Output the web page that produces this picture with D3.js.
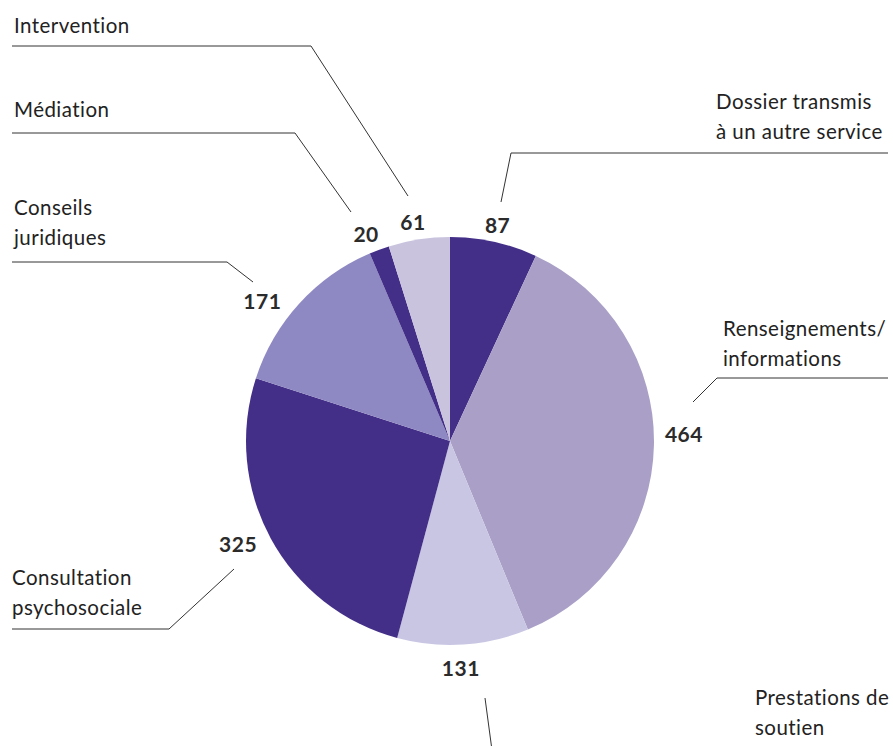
<!DOCTYPE html>
<html>
<head>
<meta charset="utf-8">
<script src="https://cdn.jsdelivr.net/npm/d3@7/dist/d3.min.js"></script>
<style>
  html, body { margin: 0; padding: 0; background: #ffffff; }
  svg { display: block; }
  .cat { font-family: Lato, "Open Sans", sans-serif; font-size: 20.5px; fill: #222; letter-spacing: 0.45px; font-variant-ligatures: none; }
  .val { font-family: Lato, "Open Sans", sans-serif; font-size: 21px; font-weight: 700; fill: #2b2b2b; letter-spacing: 0.5px; }
</style>
</head>
<body>
<svg id="chart" width="893" height="746"></svg>
<script>
// ---- Data ----
const categories = [
  ["Dossier transmis", "à un autre service"],
  ["Renseignements/", "informations"],
  ["Prestations de", "soutien"],
  ["Consultation", "psychosociale"],
  ["Conseils", "juridiques"],
  ["Médiation"],
  ["Intervention"]
];
const values = [87, 464, 131, 325, 171, 20, 61];
const colors = ["#432e88", "#aaa0c7", "#c8c6e3", "#432e88", "#8e88c3", "#432e88", "#c9c3de"];

// ---- Layout ----
const W = 893, H = 746;
const cx = 450, cy = 441, R = 204;

// label layout: value label radius / angle nudge, category text anchor, leader elbow
const labelLayout = [
  { vr: 221, da: 0,    tx: 716, ty: 109, anchor: "start", hy: 153, hx0: 888, elbow: 511, end: [501, 202] },
  { vr: 234, da: -2.9, tx: 723, ty: 336, anchor: "start", hy: 378, hx0: 888, elbow: 717, end: [693, 402] },
  { vr: 228, da: 1,    tx: 755, ty: 705, anchor: "start", hy: 780, hx0: 888, elbow: 496, end: [485, 698] },
  { vr: 236, da: 2.4,  tx: 12,  ty: 585, anchor: "start", hy: 629, hx0: 12,  elbow: 169, end: [234, 569] },
  { vr: 234, da: -5.7, tx: 14,  ty: 215, anchor: "start", hy: 262, hx0: 12,  elbow: 227, end: [253, 282] },
  { vr: 223, da: -1.8, tx: 14,  ty: 117, anchor: "start", hy: 133, hx0: 12,  elbow: 295, end: [351, 212] },
  { vr: 222, da: -0.9, tx: 14,  ty: 33,  anchor: "start", hy: 46,  hx0: 12,  elbow: 311, end: [408, 196] }
];

const svg = d3.select("#chart");
const g = svg.append("g").attr("transform", `translate(${cx},${cy})`);

const pie = d3.pie().sort(null).value(d => d)(values);
const arc = d3.arc().innerRadius(0).outerRadius(R);

g.selectAll("path.slice")
  .data(pie)
  .join("path")
  .attr("class", "slice")
  .attr("d", arc)
  .attr("fill", (d, i) => colors[i]);

// value labels
g.selectAll("text.val")
  .data(pie)
  .join("text")
  .attr("class", "val")
  .attr("text-anchor", "middle")
  .attr("dy", "0.36em")
  .attr("transform", (d, i) => {
    const a = (d.startAngle + d.endAngle) / 2 + labelLayout[i].da * Math.PI / 180;
    const r = labelLayout[i].vr;
    return `translate(${r * Math.sin(a)},${-r * Math.cos(a)})`;
  })
  .text(d => d.value);

// leader lines
svg.selectAll("path.leader")
  .data(labelLayout)
  .join("path")
  .attr("class", "leader")
  .attr("fill", "none")
  .attr("stroke", "#333")
  .attr("stroke-width", 1)
  .attr("d", d => `M${d.hx0},${d.hy}L${d.elbow},${d.hy}L${d.end[0]},${d.end[1]}`);

// category labels
const cats = svg.selectAll("text.cat")
  .data(categories)
  .join("text")
  .attr("class", "cat")
  .attr("text-anchor", (d, i) => labelLayout[i].anchor)
  .attr("x", (d, i) => labelLayout[i].tx)
  .attr("y", (d, i) => labelLayout[i].ty);
cats.selectAll("tspan")
  .data(d => d)
  .join("tspan")
  .attr("x", function () { return d3.select(this.parentNode).attr("x"); })
  .attr("dy", (d, j) => j === 0 ? 0 : 30)
  .text(d => d);
</script>
</body>
</html>
